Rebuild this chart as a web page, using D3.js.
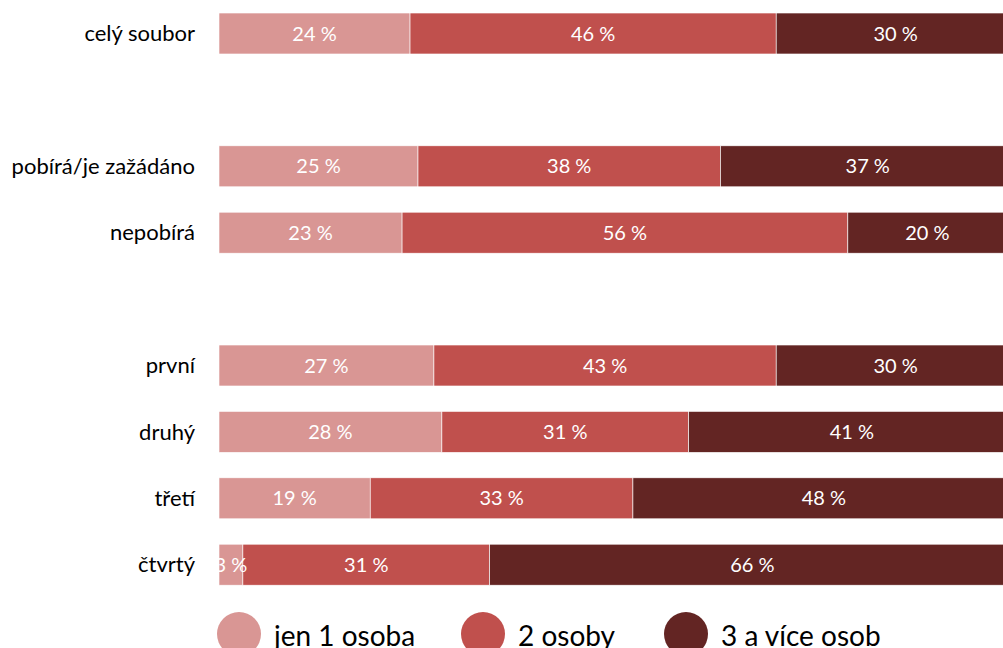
<!DOCTYPE html>
<html>
<head>
<meta charset="utf-8">
<script src="https://cdn.jsdelivr.net/npm/d3@7"></script>
<style>
  html, body { margin: 0; padding: 0; background: #fff; overflow: hidden; }
  svg { display: block; }
</style>
</head>
<body>
<svg class="vis-container"></svg>
<script>
// rows of the chart, null = empty slot between groups
const categories = ['celý soubor', null, 'pobírá/je zažádáno', 'nepobírá', null,
                    'první', 'druhý', 'třetí', 'čtvrtý'];
// share of households by number of people (in %)
const onePerson = [24, null, 25, 23, null, 27, 28, 19, 3];
const twoPersons = [46, null, 38, 56, null, 43, 31, 33, 31];
const threePlus = [30, null, 37, 20, null, 30, 41, 48, 66];
const seriesNames = ['jen 1 osoba', '2 osoby', '3 a více osob'];
const seriesColors = ['#D99694', '#C0504D', '#632523'];

const width = 1003;
const height = 648;
const margin = {top: 0, left: 219, right: -12, bottom: 50};
const font = 'Lato, "Open Sans", sans-serif';

const svg = d3.select('.vis-container')
  .attr('width', width)
  .attr('height', height);

const rows = categories.map((name, i) => ({
  key: String(i),
  name,
  values: [onePerson[i], twoPersons[i], threePlus[i]]
}));

const x = d3.scaleLinear()
  .domain([0, 100])
  .range([margin.left, width - margin.right]);

const y = d3.scaleBand()
  .domain(rows.map(d => d.key))
  .range([0.3, 597.9])
  .paddingInner(0.383)
  .paddingOuter(0.1915);

// build stacked segments
const segments = [];
rows.filter(r => r.name !== null).forEach(r => {
  let acc = 0;
  r.values.forEach((v, j) => {
    segments.push({key: r.key, series: j, start: acc, value: v});
    acc += v;
  });
});

const chart = svg.append('g').attr('class', 'bars');

chart.selectAll('rect')
  .data(segments)
  .enter()
  .append('rect')
    .attr('x', d => x(d.start))
    .attr('y', d => y(d.key))
    .attr('width', d => x(d.start + d.value) - x(d.start))
    .attr('height', y.bandwidth())
    .attr('fill', d => seriesColors[d.series])
    .attr('stroke', '#fff')
    .attr('stroke-width', 0.6);

chart.selectAll('.value')
  .data(segments)
  .enter()
  .append('text')
    .attr('class', 'value')
    .attr('x', d => x(d.start + d.value / 2))
    .attr('y', d => y(d.key) + y.bandwidth() / 2)
    .attr('dy', '0.35em')
    .attr('text-anchor', 'middle')
    .attr('font-family', font)
    .attr('font-size', 20)
    .attr('fill', '#fff')
    .text(d => d.value + ' %');

// category labels
svg.append('g').selectAll('text')
  .data(rows.filter(r => r.name !== null))
  .enter()
  .append('text')
    .attr('x', 195)
    .attr('y', d => y(d.key) + y.bandwidth() / 2)
    .attr('dy', '0.35em')
    .attr('text-anchor', 'end')
    .attr('font-family', font)
    .attr('font-size', 22)
    .attr('fill', '#000')
    .text(d => d.name);

// legend
const legendX = [239, 483, 686];
const legend = svg.append('g').attr('class', 'legend');
const item = legend.selectAll('g')
  .data(seriesNames)
  .enter()
  .append('g')
    .attr('transform', (d, i) => `translate(${legendX[i]}, 634)`);

item.append('circle')
  .attr('r', 22)
  .attr('fill', (d, i) => seriesColors[i]);

item.append('text')
  .attr('x', 35)
  .attr('y', 2)
  .attr('dy', '0.35em')
  .attr('font-family', font)
  .attr('font-size', 28)
  .attr('fill', '#000')
  .text(d => d);
</script>
</body>
</html>
